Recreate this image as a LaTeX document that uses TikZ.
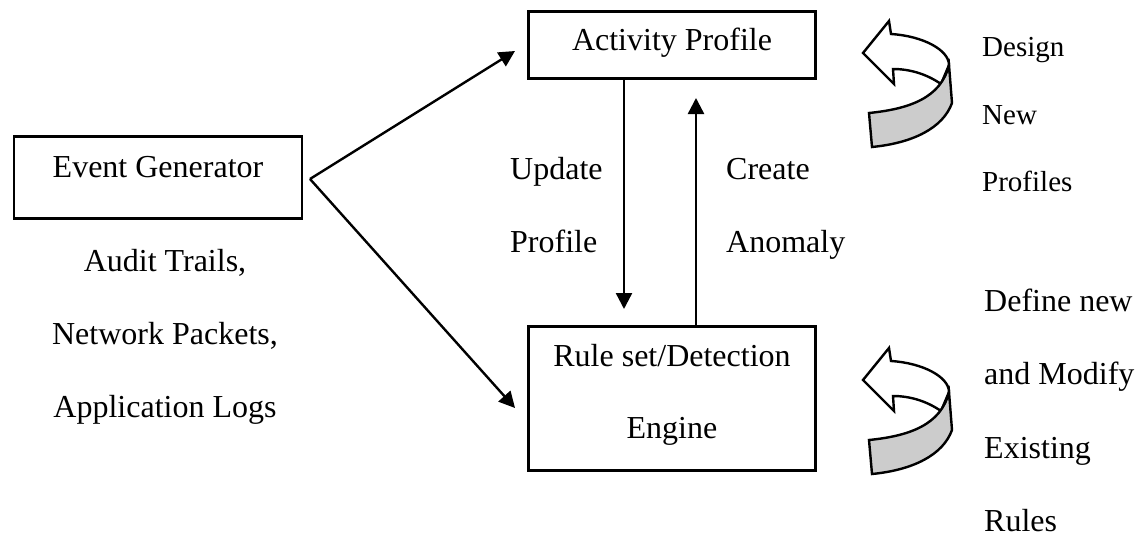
\documentclass[tikz,border=0pt]{standalone}
\usepackage{fontspec}
\usetikzlibrary{arrows.meta}
\setmainfont{Liberation Serif}
\tikzset{
  box/.style={draw,line width=2.4pt,inner sep=0pt},
  lbl/.style={inner sep=0pt,anchor=base,font=\fontsize{32}{32}\selectfont},
  lblleft/.style={lbl,anchor=base west},
  small/.style={inner sep=0pt,anchor=base west,font=\fontsize{29}{29}\selectfont},
  link/.style={line width=2.4pt,-{Stealth[length=16pt,width=16pt,inset=0pt]}},
  turnarrow/.pic={
    \draw[line width=2.4pt,fill=white] (0,0) -- (26,-32) -- (28,-19)
      .. controls (60,-17) and (86,-3) .. (86,12) -- (78,31)
      .. controls (62,20) and (45,16) .. (30,16) -- (31,31) -- cycle;
    \draw[line width=2.4pt,fill=black!20] (6,60) .. controls (46,56) and (78,45) .. (86,12)
      -- (89,50) .. controls (80,75) and (50,90) .. (9,94) -- cycle;
  }
}
\begin{document}
\begin{tikzpicture}[x=1pt,y=-1pt]
  \useasboundingbox (0,0) rectangle (1146,535);
  \node[box,minimum width=288pt,minimum height=82pt] (event) at (158,177.5) {};
  \node[box,minimum width=287pt,minimum height=67pt] (activity) at (672,45) {};
  \node[box,minimum width=287pt,minimum height=144pt] (rules) at (672,398.5) {};
  \coordinate (fork) at (310,179);
  \coordinate (activityin) at (515,51);
  \coordinate (rulesin) at (515,408);
  \coordinate (updateend) at (624,309);
  \coordinate (createend) at (696,98);
  \draw[link] (fork) -- (activityin);
  \draw[link] (fork) -- (rulesin);
  \draw[link] (activity.south -| updateend) -- (updateend);
  \draw[link] (rules.north -| createend) -- (createend);

  \node[lbl] (eventtxt) at (158,177) {Event Generator};
  \node[lbl] (activitytxt) at (672,51) {Activity Profile};
  \node[lbl] (rulestxt) at (672,366) {Rule set/Detection};
  \node[lbl] (enginetxt) at (672,438) {Engine};
  \node[lbl] (audit) at (165,271) {Audit Trails,};
  \node[lbl] (packets) at (165,344) {Network Packets,};
  \node[lbl] (logs) at (165,417) {Application Logs};
  \node[lblleft] (update) at (510,179) {Update};
  \node[lblleft] (profile) at (510,252) {Profile};
  \node[lblleft] (create) at (726,179) {Create};
  \node[lblleft] (anomaly) at (726,252) {Anomaly};
  \node[small] (design) at (982,57) {Design};
  \node[small] (new) at (982,124) {New};
  \node[small] (profiles) at (982,191) {Profiles};
  \node[lblleft] (definenew) at (984,311) {Define new};
  \node[lblleft] (modify) at (984,384) {and Modify};
  \node[lblleft] (existing) at (984,458) {Existing};
  \node[lblleft] (rulestail) at (984,531) {Rules};

  \pic at (863,53) {turnarrow};
  \pic at (863,380) {turnarrow};
\end{tikzpicture}
\end{document}
